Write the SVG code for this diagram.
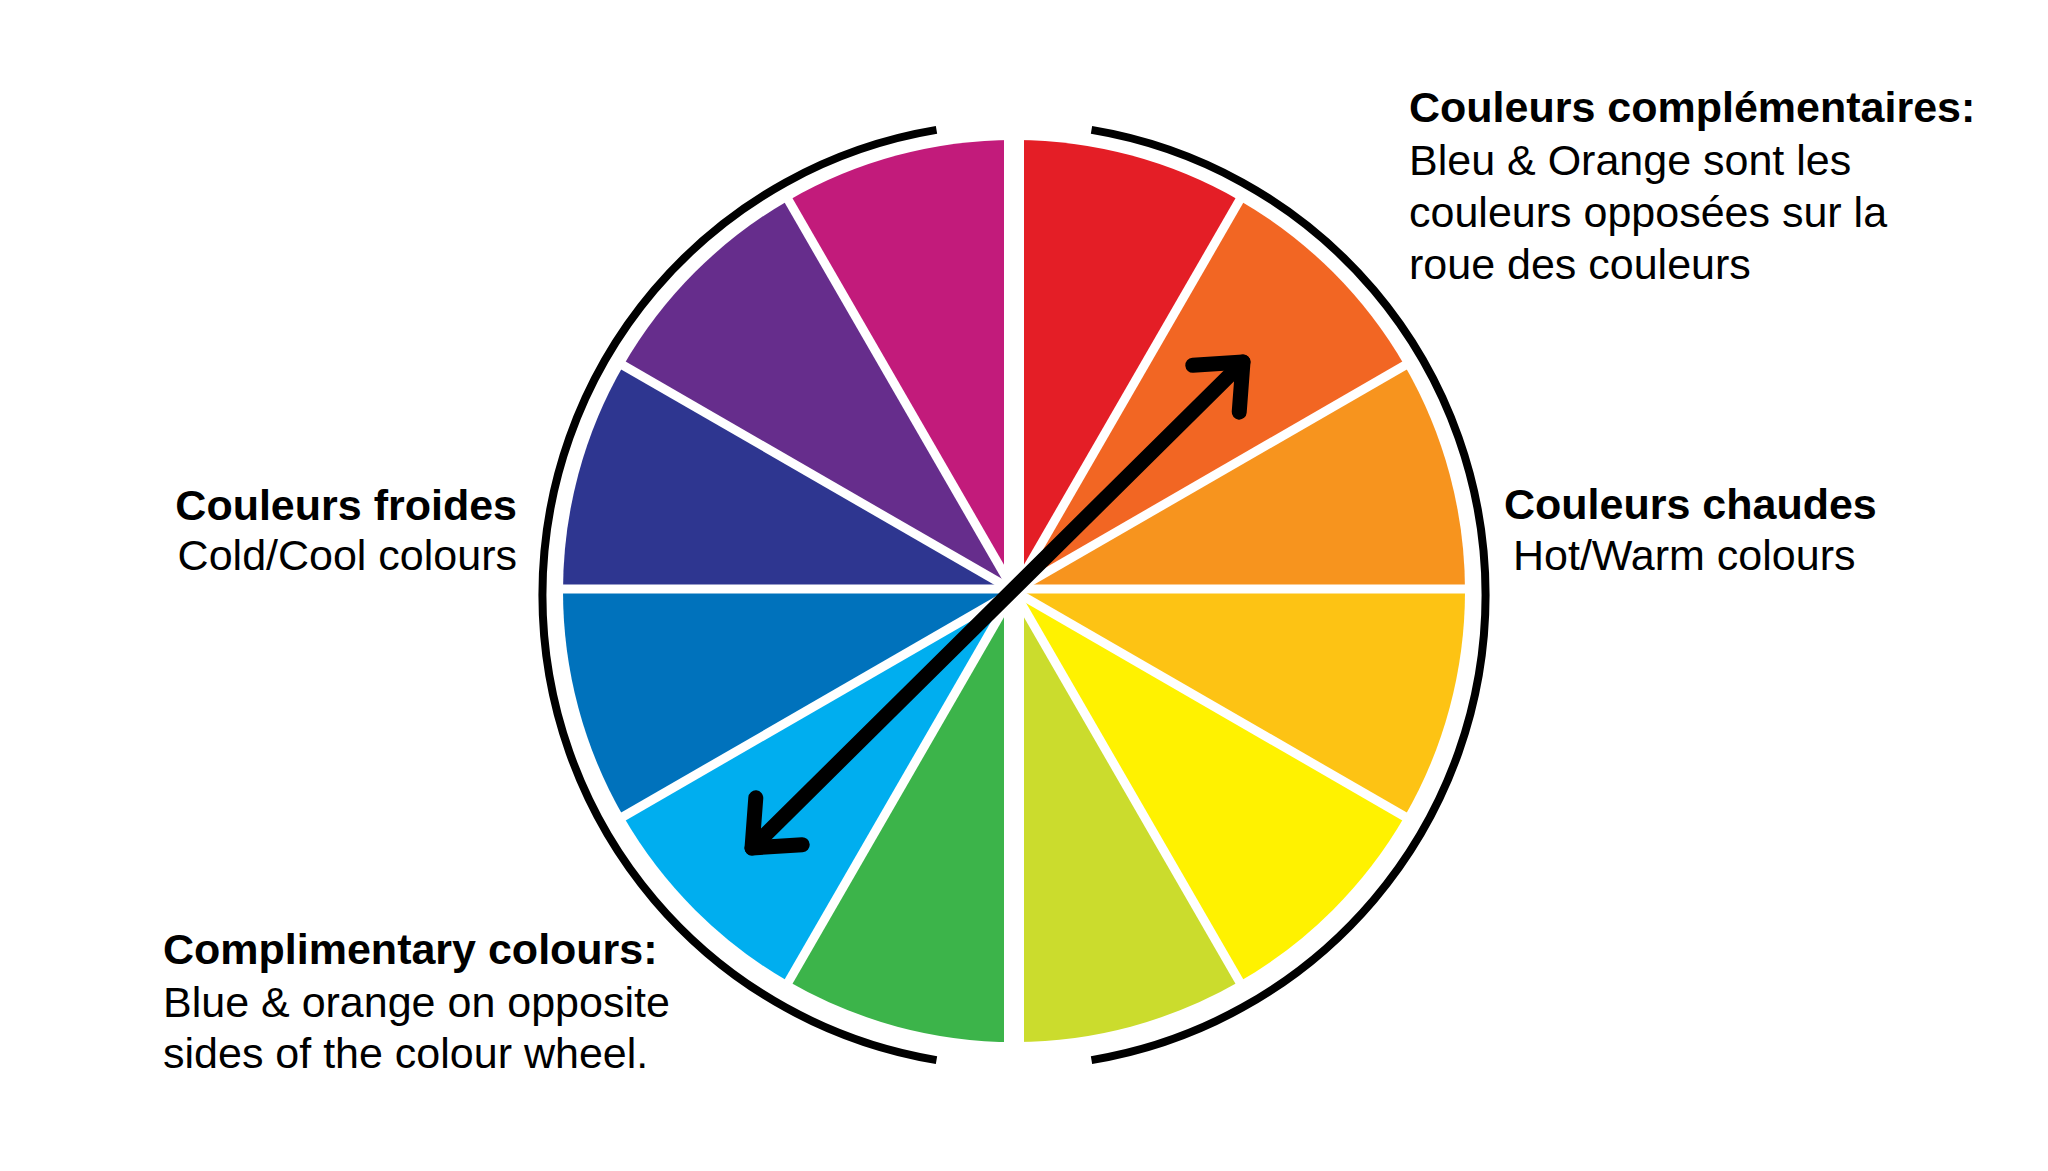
<svg xmlns="http://www.w3.org/2000/svg" width="2048" height="1171" viewBox="0 0 2048 1171">
<defs>
<style>
.t{font-family:"Liberation Sans",Arial,Helvetica,sans-serif;font-size:43px;fill:#000}
.b{font-weight:bold}
.gap{stroke:#fff;stroke-width:9;stroke-linecap:butt}
.ring{fill:none;stroke:#000;stroke-width:8;stroke-linecap:butt}
.arr{fill:none;stroke:#000;stroke-width:15;stroke-linecap:round;stroke-linejoin:round}
</style>
<marker id="head" markerUnits="userSpaceOnUse" viewBox="-60 -50 80 100" markerWidth="80" markerHeight="100" refX="0" refY="0" orient="auto-start-reverse">
<path d="M-38,-33 L0,0 L-38,33" class="arr"/>
</marker>
</defs>
<rect width="2048" height="1171" fill="#fff"/>
<g id="wheel">
<path d="M1014,591 L1014,140 A451,451 0 0 1 1239.5,200.42 Z" fill="#E41E26"/>
<path d="M1014,591 L1239.5,200.42 A451,451 0 0 1 1404.58,365.5 Z" fill="#F26623"/>
<path d="M1014,591 L1404.58,365.5 A451,451 0 0 1 1465,591 Z" fill="#F7941E"/>
<path d="M1014,591 L1465,591 A451,451 0 0 1 1404.58,816.5 Z" fill="#FDC314"/>
<path d="M1014,591 L1404.58,816.5 A451,451 0 0 1 1239.5,981.58 Z" fill="#FFF200"/>
<path d="M1014,591 L1239.5,981.58 A451,451 0 0 1 1014,1042 Z" fill="#CBDC2D"/>
<path d="M1014,591 L1014,1042 A451,451 0 0 1 788.5,981.58 Z" fill="#3CB44A"/>
<path d="M1014,591 L788.5,981.58 A451,451 0 0 1 623.42,816.5 Z" fill="#00AEEF"/>
<path d="M1014,591 L623.42,816.5 A451,451 0 0 1 563,591 Z" fill="#0072BC"/>
<path d="M1014,591 L563,591 A451,451 0 0 1 623.42,365.5 Z" fill="#2E3690"/>
<path d="M1014,591 L623.42,365.5 A451,451 0 0 1 788.5,200.42 Z" fill="#662D8C"/>
<path d="M1014,591 L788.5,200.42 A451,451 0 0 1 1014,140 Z" fill="#C21B7B"/>
<line class="gap" x1="1014" y1="125" x2="1014" y2="1057" style="stroke-width:20"/>
<line class="gap" x1="550" y1="589" x2="1478" y2="589"/>
<line class="gap" x1="1244" y1="192.6" x2="784" y2="989.4"/>
<line class="gap" x1="1412.4" y1="361" x2="615.6" y2="821"/>
<line class="gap" x1="1412.4" y1="821" x2="615.6" y2="361"/>
<line class="gap" x1="1244" y1="989.4" x2="784" y2="192.6"/>
</g>
<g id="ring">
<path class="ring" d="M1091.5,129.9 A471.5,471.5 0 0 1 1091.5,1060.1"/>
<path class="ring" d="M936.5,1060.1 A471.5,471.5 0 0 1 936.5,129.9"/>
</g>
<g id="connectors">
<line class="arr" x1="752" y1="848" x2="1243" y2="362" marker-start="url(#head)" marker-end="url(#head)"/>
</g>
<g id="label-complementaires">
<text class="t b" x="1409" y="122">Couleurs complémentaires:</text>
<text class="t" x="1409" y="175">Bleu &amp; Orange sont les</text>
<text class="t" x="1409" y="227">couleurs opposées sur la</text>
<text class="t" x="1409" y="279">roue des couleurs</text>
</g>
<g id="label-froides">
<text class="t b" x="517" y="520" text-anchor="end">Couleurs froides</text>
<text class="t" x="517" y="570" text-anchor="end">Cold/Cool colours</text>
</g>
<g id="label-chaudes">
<text class="t b" x="1504" y="519">Couleurs chaudes</text>
<text class="t" x="1513" y="570">Hot/Warm colours</text>
</g>
<g id="label-complimentary">
<text class="t b" x="163" y="964">Complimentary colours:</text>
<text class="t" x="163" y="1017">Blue &amp; orange on opposite</text>
<text class="t" x="163" y="1068">sides of the colour wheel.</text>
</g>
</svg>
